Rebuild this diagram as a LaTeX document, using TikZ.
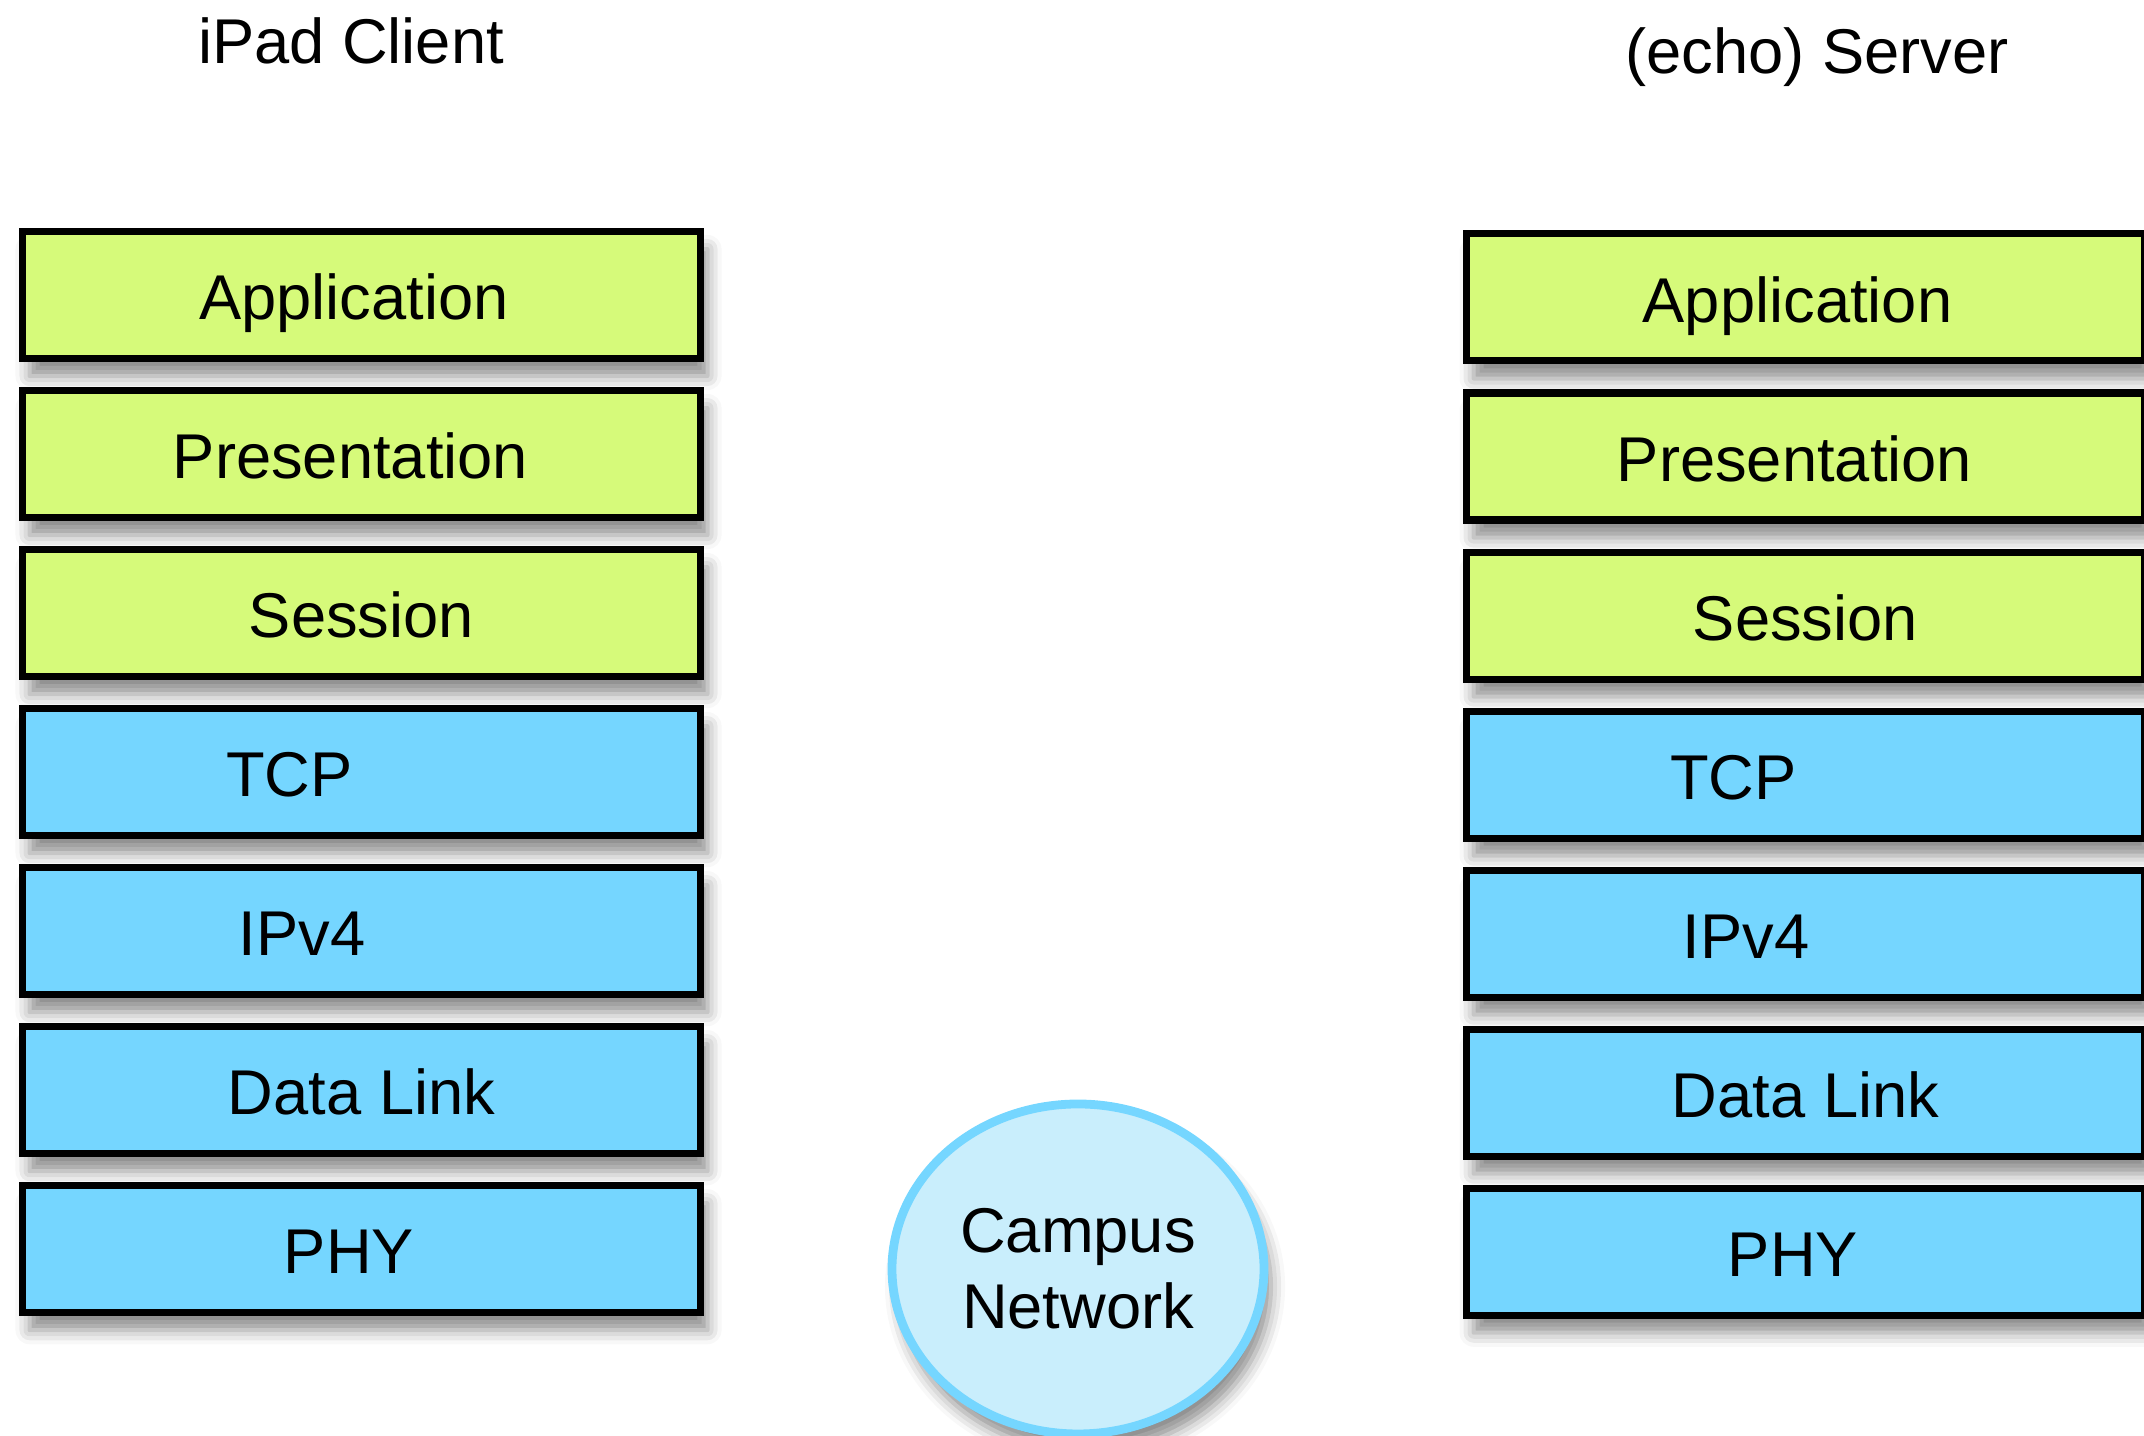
\documentclass[tikz,border=0pt]{standalone}
\usepackage{fontspec}
\setmainfont{Liberation Sans}
\usepackage{tikz}
\usetikzlibrary{positioning, shapes.geometric, shadows.blur}

\definecolor{layergreen}{RGB}{214,250,122}
\definecolor{layerblue}{RGB}{117,214,255}
\definecolor{netfill}{RGB}{201,238,252}

\begin{document}
\begin{tikzpicture}[node distance=0.25cm,
    layer/.style={draw, line width=2pt, minimum width=6.78cm, minimum height=1.27cm,
        text height=14pt, text depth=0pt, font=\fontsize{18}{21.6}\selectfont,
        blur shadow={shadow xshift=2pt, shadow yshift=-5pt, shadow blur radius=4pt, shadow opacity=45}},
    upper/.style={layer, fill=layergreen},
    lower/.style={layer, fill=layerblue}]
    \useasboundingbox (0,0) rectangle (21.44,14.36);

    % titles
    \node[font=\fontsize{18}{21.6}\selectfont] (client) at (3.51,13.95) {iPad Client};
    \node[font=\fontsize{18}{21.6}\selectfont] (server) at (18.17,13.79) {(echo) Server};

    % client stack
    \node[upper] (client_1) at (3.615,11.41) {\hspace*{-0.15cm}Application};
    \node[upper, below=of client_1] (client_2) {\hspace*{-0.22cm}Presentation};
    \node[upper, below=of client_2] (client_3) {Session};
    \node[lower, below=of client_3] (client_4) {\hspace*{-1.44cm}TCP};
    \node[lower, below=of client_4] (client_5) {\hspace*{-1.19cm}IPv4};
    \node[lower, below=of client_5] (client_6) {Data Link};
    \node[lower, below=of client_6] (client_7) {\hspace*{-0.25cm}PHY};

    % server stack
    \node[upper] (server_1) at (18.055,11.385) {\hspace*{-0.16cm}Application};
    \node[upper, below=of server_1] (server_2) {\hspace*{-0.22cm}Presentation};
    \node[upper, below=of server_2] (server_3) {Session};
    \node[lower, below=of server_3] (server_4) {\hspace*{-1.44cm}TCP};
    \node[lower, below=of server_4] (server_5) {\hspace*{-1.19cm}IPv4};
    \node[lower, below=of server_5] (server_6) {Data Link};
    \node[lower, below=of server_6] (server_7) {\hspace*{-0.25cm}PHY};

    % network
    \node[draw=layerblue, fill=netfill, line width=2.5pt, ellipse, minimum width=3.72cm,
        minimum height=3.3cm, align=center, font=\fontsize{18}{21.6}\selectfont,
        blur shadow={shadow xshift=2pt, shadow yshift=-5pt, shadow blur radius=4pt, shadow opacity=45}]
        (network) at (10.78,1.67) {Campus\\Network};
\end{tikzpicture}
\end{document}
